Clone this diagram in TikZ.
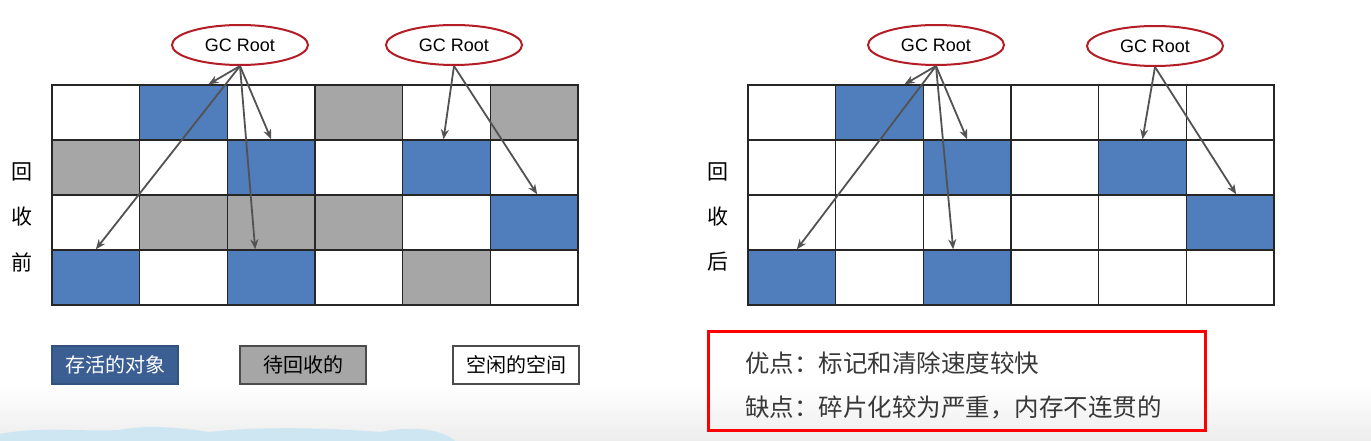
\documentclass[tikz,border=0pt]{standalone}
\usepackage{fontspec}
\setmainfont{Liberation Sans}
\newfontfamily\cjk{Noto Sans CJK SC}
\usetikzlibrary{shapes.geometric,calc,arrows.meta}

\definecolor{cw}{RGB}{255,255,255}
\definecolor{cb}{RGB}{80,125,187}
\definecolor{cg}{RGB}{166,166,166}
\definecolor{livefill}{RGB}{59,95,146}
\definecolor{rootred}{RGB}{180,28,38}
\definecolor{arrowgray}{RGB}{82,82,82}
\definecolor{cloudblue}{RGB}{205,230,242}

\begin{document}
\begin{tikzpicture}[
        x=1pt, y=-1pt,
        cell/.style={rectangle, draw=black!85, line width=1.4pt, minimum width=87.67pt, minimum height=55pt, inner sep=0pt},
        root/.style={ellipse, draw=rootred, line width=2pt, fill=white, minimum width=136pt, minimum height=40pt, inner sep=0pt, font=\fontsize{18}{18}\selectfont},
        arrow/.style={-{Stealth[length=10pt, width=8pt]}, arrowgray, line width=1.8pt},
        side/.style={font=\cjk\fontsize{21}{21}\selectfont},
        legend/.style={rectangle, draw=black!70, line width=1.5pt, minimum width=126pt, minimum height=38pt, inner sep=0pt, font=\cjk\fontsize{20}{20}\selectfont},
        summary/.style={rectangle, draw=red, line width=3pt, minimum width=497pt, minimum height=99pt},
        note/.style={anchor=west, inner sep=0pt, text=black!78, font=\cjk\fontsize{24.5}{24.5}\selectfont}
    ]
        \useasboundingbox (0,0) rectangle (1371,441);
        % background
        \shade[top color=white, bottom color=black!7] (0,385) rectangle (1371,441);
        \fill[cloudblue] (0,441) -- (0,434) .. controls (40,426) and (80,432) .. (120,430)
            .. controls (150,424) and (180,428) .. (210,432) .. controls (260,426) and (330,428) .. (380,432)
            .. controls (410,426) and (440,428) .. (455,441) -- cycle;

        % before collection
        \foreach \row [count=\r from 0] in {{w,b,w,g,w,g},{g,w,b,w,b,w},{w,g,g,g,w,b},{b,w,b,w,g,w}}
            \foreach \k [count=\c from 0] in \row
                \node[cell, fill=c\k] (L\c\r) at ({95.83+87.67*\c}, {112.5+55*\r}) {};

        % after collection
        \foreach \row [count=\r from 0] in {{w,b,w,w,w,w},{w,w,b,w,b,w},{w,w,w,w,w,b},{b,w,b,w,w,w}}
            \foreach \k [count=\c from 0] in \row
                \node[cell, fill=c\k] (R\c\r) at ({791.83+87.67*\c}, {112.5+55*\r}) {};

        \node[root] (rootA) at (240,45) {GC Root};
        \node[root] (rootB) at (454,45) {GC Root};
        \node[root] (rootC) at (936,45) {GC Root};
        \node[root] (rootD) at (1155,46) {GC Root};

        \draw[arrow] (rootA.south) -- ($(L10.north)+(25,0)$);
        \draw[arrow] (rootA.south) -- (L21.north);
        \draw[arrow] (rootA.south) -- ($(L23.north)+(-16,0)$);
        \draw[arrow] (rootA.south) -- (L03.north);
        \draw[arrow] (rootB.south) -- ($(L41.north)+(-3,0)$);
        \draw[arrow] (rootB.south) -- ($(L52.north)+(3,0)$);

        \draw[arrow] (rootC.south) -- ($(R10.north)+(25,0)$);
        \draw[arrow] (rootC.south) -- (R21.north);
        \draw[arrow] (rootC.south) -- ($(R23.north)+(-14,0)$);
        \draw[arrow] (rootC.south) -- ($(R03.north)+(5,0)$);
        \draw[arrow] (rootD.south) -- (R41.north);
        \draw[arrow] (rootD.south) -- ($(R52.north)+(6,0)$);

        \node[side] (beforeA) at (22,172) {回};
        \node[side] (beforeB) at (22,217) {收};
        \node[side] (beforeC) at (22,262) {前};
        \node[side] (afterA) at (718,172) {回};
        \node[side] (afterB) at (718,217) {收};
        \node[side] (afterC) at (718,262) {后};

        % legend
        \node[legend, fill=livefill, draw=livefill!85!black, text=white] (live) at (115,365) {存活的对象};
        \node[legend, fill=cg] (dead) at (303,365) {待回收的};
        \node[legend, fill=white] (free) at (516,365) {空闲的空间};

        \node[summary] (box) at (957,380.5) {};
        \node[note] (pros) at (745,363) {优点：标记和清除速度较快};
        \node[note] (cons) at (745,407) {缺点：碎片化较为严重，内存不连贯的};
    \end{tikzpicture}
\end{document}
